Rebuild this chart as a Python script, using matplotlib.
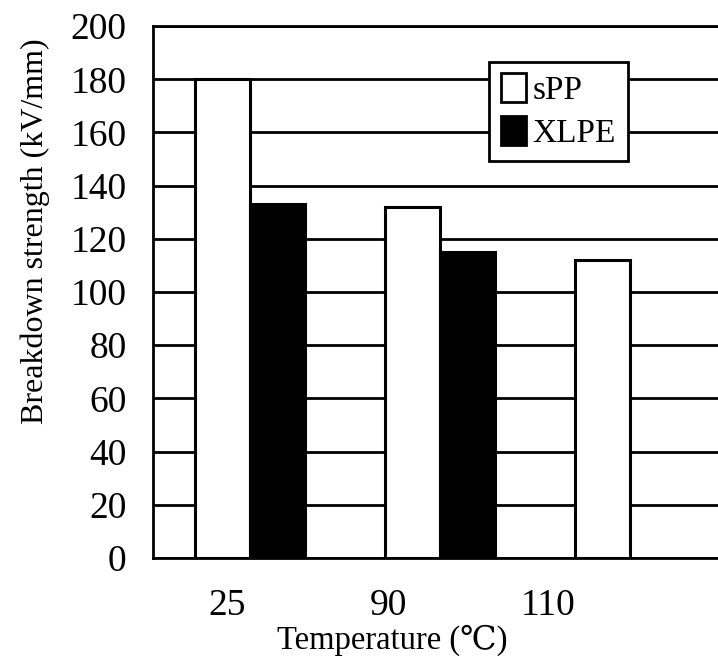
import numpy as np
import matplotlib
matplotlib.use('Agg')
import matplotlib.pyplot as plt
from matplotlib.patches import Patch

temps = ['25', '90', '110']
spp = [180, 132, 112]
xlpe = [133, 115, np.nan]
# tick labels in the scan sit left of the bar groups
label_shift = [-0.12, -0.27, -0.43]

plt.rcParams['font.family'] = ['Liberation Serif', 'DejaVu Serif']

fig = plt.figure(figsize=(7.18, 6.6), dpi=100)
ax = fig.add_axes([0.2131, 0.1545, 0.794, 0.806])

x = np.arange(len(temps))
w = 0.29
ax.bar(x - w/2, spp, w, color='white', edgecolor='black', linewidth=2.2, zorder=3, label='sPP')
ax.bar(x + w/2, xlpe, w, color='black', edgecolor='black', linewidth=2.2, zorder=3, label='XLPE')

ax.set_xlim(-0.51, 2.49)
ax.set_ylim(0, 200)
ax.set_yticks(np.arange(0, 201, 20))
ax.set_xticks(x + np.array(label_shift))
ax.set_xticklabels(temps)
ax.tick_params(axis='both', length=0, labelsize=27)
ax.tick_params(axis='x', pad=22)
ax.tick_params(axis='y', pad=19)
ax.grid(axis='y', color='black', linewidth=2, zorder=1)

for s in ax.spines.values():
    s.set_linewidth(2)
    s.set_color('black')

ax.set_ylabel('Breakdown strength (kV/mm)', fontsize=23)
ax.yaxis.set_label_coords(-0.18, 0.615)
ax.set_xlabel('Temperature (\u2103)', fontsize=23.5)
ax.xaxis.set_label_coords(0.419, -0.125)

handles = [Patch(facecolor='white', edgecolor='black', linewidth=2),
           Patch(facecolor='black', edgecolor='black', linewidth=2)]
leg = ax.legend(handles, ['sPP', 'XLPE'], loc='upper left', bbox_to_anchor=(0.59, 0.933),
                fontsize=24, fancybox=False, framealpha=1, edgecolor='black',
                handlelength=0.75, handleheight=0.95, handletextpad=0.2,
                borderpad=0.35, labelspacing=0.3, borderaxespad=0)
leg.get_frame().set_linewidth(2)
leg.set_zorder(5)

plt.savefig('out.png', dpi=100)
